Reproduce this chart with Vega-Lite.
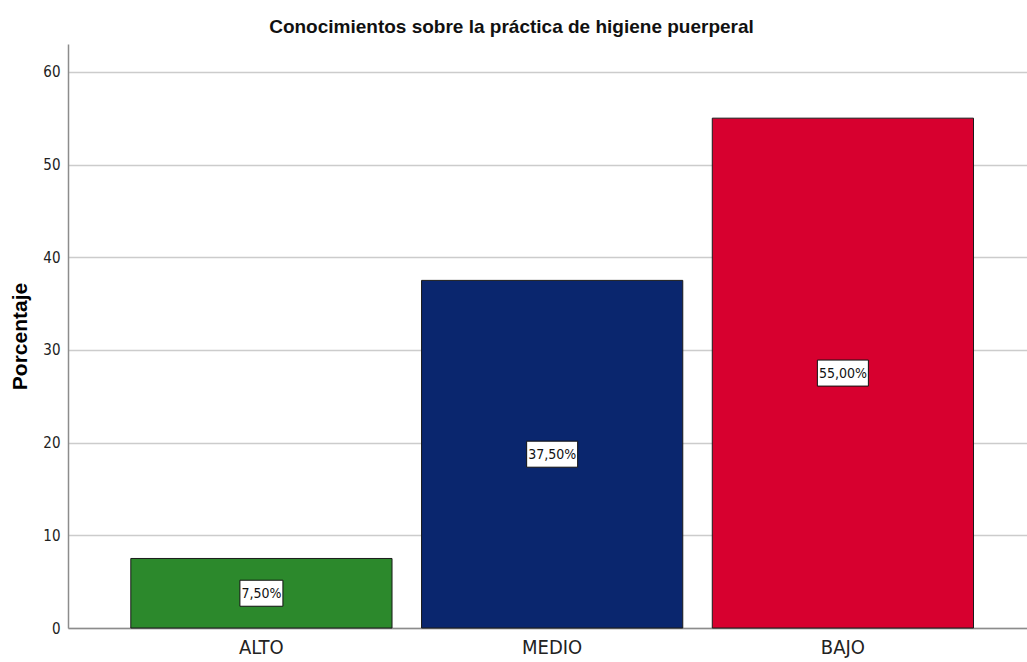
{
  "$schema": "https://vega.github.io/schema/vega-lite/v6.json",
  "width": 959,
  "height": 584,
  "autosize": {"type": "none"},
  "padding": {"left": 68, "top": 44, "right": 0, "bottom": 34},
  "background": "white",
  "title": {
    "text": "Conocimientos sobre la práctica de higiene puerperal",
    "font": "Liberation Sans",
    "fontSize": 19,
    "fontWeight": "bold",
    "color": "#111111",
    "anchor": "middle",
    "dx": -36,
    "offset": 7
  },
  "data": {
    "values": [
      {"cat": "ALTO", "value": 7.5, "label": "7,50%"},
      {"cat": "MEDIO", "value": 37.5, "label": "37,50%"},
      {"cat": "BAJO", "value": 55.0, "label": "55,00%"}
    ]
  },
  "encoding": {
    "x": {
      "field": "cat",
      "type": "nominal",
      "sort": ["ALTO", "MEDIO", "BAJO"],
      "scale": {"paddingInner": 0.1015, "paddingOuter": 0.2, "align": 0.54},
      "axis": {
        "title": null,
        "labelAngle": 0,
        "labelFont": "Liberation Sans Narrow, DejaVu Sans Condensed, Roboto Condensed, Liberation Sans",
        "labelFontSize": 20,
        "labelColor": "#222222",
        "labelPadding": 9,
        "ticks": false,
        "domain": true,
        "domainColor": "#8c8c8c",
        "domainWidth": 1.5
      }
    }
  },
  "layer": [
    {
      "mark": {"type": "bar", "stroke": "#1a1a1a", "strokeWidth": 1},
      "encoding": {
        "y": {
          "field": "value",
          "type": "quantitative",
          "scale": {"domain": [0, 63], "nice": false},
          "axis": {
            "title": "Porcentaje",
            "titleFont": "Liberation Sans",
            "titleFontSize": 21,
            "titleFontWeight": "bold",
            "titleColor": "#000000",
            "titlePadding": 12,
            "values": [0, 10, 20, 30, 40, 50, 60],
            "labelFont": "Liberation Sans Narrow, DejaVu Sans Condensed, Roboto Condensed, Liberation Sans",
            "labelFontSize": 15,
            "labelColor": "#222222",
            "labelPadding": 8,
            "ticks": false,
            "grid": true,
            "gridColor": "#cccccc",
            "gridWidth": 1.5,
            "domain": true,
            "domainColor": "#8c8c8c",
            "domainWidth": 1.5
          }
        },
        "color": {
          "field": "cat",
          "type": "nominal",
          "scale": {"domain": ["ALTO", "MEDIO", "BAJO"], "range": ["#2c892c", "#0a266e", "#d7002f"]},
          "legend": null
        }
      }
    },
    {
      "mark": {"type": "point", "filled": true, "fill": "white", "stroke": "#111111", "strokeWidth": 1, "opacity": 1, "size": 2601},
      "encoding": {
        "y": {"field": "value", "type": "quantitative", "scale": {"domain": [0, 126], "nice": false}, "axis": null},
        "shape": {
          "condition": {"test": "datum.value < 10", "value": "M-0.843,-0.51H0.843V0.51H-0.843Z"},
          "value": "M-1,-0.51H1V0.51H-1Z"
        }
      }
    },
    {
      "mark": {"type": "text", "font": "Liberation Sans Narrow, DejaVu Sans Condensed, Roboto Condensed, Liberation Sans", "fontSize": 14, "color": "#111111", "baseline": "middle", "align": "center", "dy": 1},
      "encoding": {
        "y": {"field": "value", "type": "quantitative", "scale": {"domain": [0, 126], "nice": false}, "axis": null},
        "text": {"field": "label", "type": "nominal"}
      }
    }
  ],
  "resolve": {"scale": {"y": "independent"}},
  "config": {"view": {"stroke": null}}
}
